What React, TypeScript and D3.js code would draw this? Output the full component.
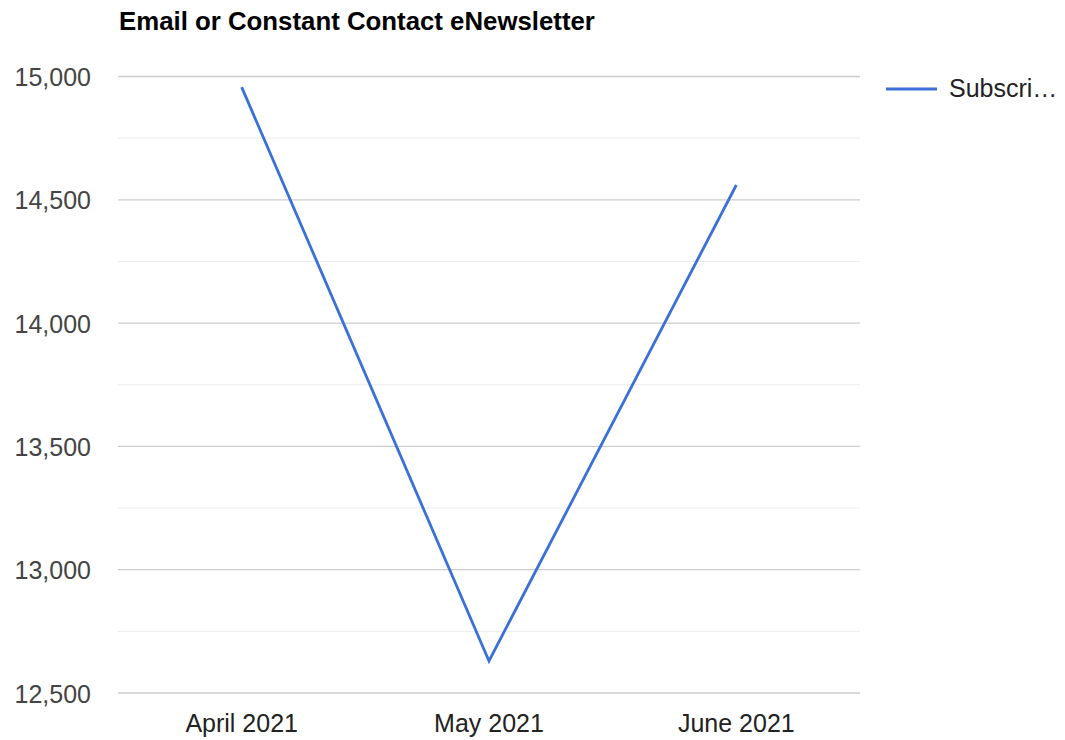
import React from "react";
import * as d3 from "d3";

const title = "Email or Constant Contact eNewsletter";
const categories = ["April 2021", "May 2021", "June 2021"];
const subscribers = [14957, 12630, 14560];
const seriesName = "Subscri…";
const yTicks = [12500, 13000, 13500, 14000, 14500, 15000];
const yMinor = [12750, 13250, 13750, 14250, 14750];

const W = 1065;
const H = 740;
const left = 118;
const right = 860;
const top = 76.5;
const bottom = 693;
const FONT = "'Liberation Sans', Arial, sans-serif";

export default function App() {
  const x = d3.scaleBand<string>().domain(categories).range([left, right]);
  const y = d3.scaleLinear().domain([12500, 15000]).range([bottom, top]);
  const line = d3
    .line<number>()
    .x((_, i) => (x(categories[i]) as number) + x.bandwidth() / 2)
    .y((d) => y(d));
  const fmt = d3.format(",");
  return (
    <svg
      width={W}
      height={H}
      style={{ position: "absolute", left: 0, top: 0, background: "#fff" }}
      fontFamily={FONT}
    >
      <text x={119} y={30} fontSize={25.8} fontWeight="bold" fill="#000">
        {title}
      </text>
      {yMinor.map((t) => (
        <line key={"m" + t} x1={left} x2={right} y1={y(t)} y2={y(t)} stroke="#ebebeb" strokeWidth={1} />
      ))}
      {yTicks.map((t) => (
        <g key={t}>
          <line x1={left} x2={right} y1={y(t)} y2={y(t)} stroke="#cccccc" strokeWidth={1.3} />
          <text x={91} y={y(t) + 9.5} fontSize={25} textAnchor="end" fill="#444">
            {fmt(t)}
          </text>
        </g>
      ))}
      {categories.map((c) => (
        <text key={c} x={(x(c) as number) + x.bandwidth() / 2} y={731.5} fontSize={25} textAnchor="middle" fill="#222">
          {c}
        </text>
      ))}
      <path d={line(subscribers) || ""} fill="none" stroke="#3b6fd9" strokeWidth={2.8} />
      <line x1={886} x2={937} y1={89} y2={89} stroke="#3b6fd9" strokeWidth={3} />
      <text x={949} y={97} fontSize={25} fill="#222">
        {seriesName}
      </text>
    </svg>
  );
}
